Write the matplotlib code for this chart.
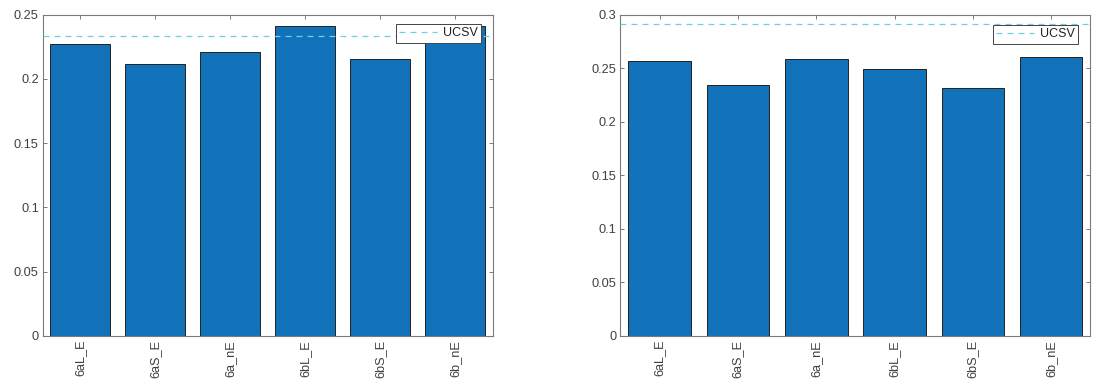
import matplotlib
matplotlib.use("Agg")
import matplotlib.pyplot as plt
import numpy as np

plt.rcParams["font.family"] = ["Liberation Sans", "DejaVu Sans"]

labels = ["6aL_E", "6aS_E", "6a_nE", "6bL_E", "6bS_E", "6b_nE"]
left_vals = [0.2274, 0.2114, 0.2209, 0.2414, 0.2153, 0.2409]
left_ucsv = 0.2331
right_vals = [0.2567, 0.2340, 0.2583, 0.2493, 0.2318, 0.2602]
right_ucsv = 0.2910

BAR = "#1172BA"
LINE = "#72CFE2"
AX = "#7a7a7a"
TXT = "#404040"


def panel(ax, vals, ucsv, ymax, yticks, leg_anchor):
    x = np.arange(1, len(vals) + 1)
    ax.bar(x, vals, width=0.8, color=BAR, edgecolor="#222222", linewidth=0.7, zorder=2)
    ax.axhline(ucsv, color=LINE, linestyle=(0, (4.8, 4)), linewidth=0.9, label="UCSV", zorder=3)
    ax.set_xlim(0.5, len(vals) + 0.5)
    ax.set_ylim(0, ymax)
    ax.set_xticks(x)
    ax.set_xticklabels(labels, rotation=90, fontsize=9.2, color=TXT)
    ax.set_yticks(yticks)
    ax.set_yticklabels([f"{t:g}" for t in yticks], fontsize=9.2, color=TXT)
    ax.tick_params(direction="in", top=True, right=True, length=3, color=AX, width=0.7, pad=3)
    for s in ax.spines.values():
        s.set_color(AX)
        s.set_linewidth(0.8)
    leg = ax.legend(loc="upper right", fontsize=9, frameon=True, fancybox=False,
                    framealpha=1, borderpad=0.25, handlelength=3.0, handletextpad=0.5,
                    borderaxespad=0, bbox_to_anchor=leg_anchor)
    leg.get_frame().set_edgecolor("#444444")
    leg.get_frame().set_linewidth(0.7)
    for t in leg.get_texts():
        t.set_color("#222222")


fig = plt.figure(figsize=(10.97, 3.81), dpi=100)
ax1 = fig.add_axes([0.0392, 0.1189, 0.41, 0.8425])
ax2 = fig.add_axes([0.5656, 0.1189, 0.4283, 0.8425])

panel(ax1, left_vals, left_ucsv, 0.25, [0, 0.05, 0.1, 0.15, 0.2, 0.25], (0.974, 0.970))
panel(ax2, right_vals, right_ucsv, 0.3, [0, 0.05, 0.1, 0.15, 0.2, 0.25, 0.3], (0.974, 0.967))

fig.savefig("out.png", dpi=100)
